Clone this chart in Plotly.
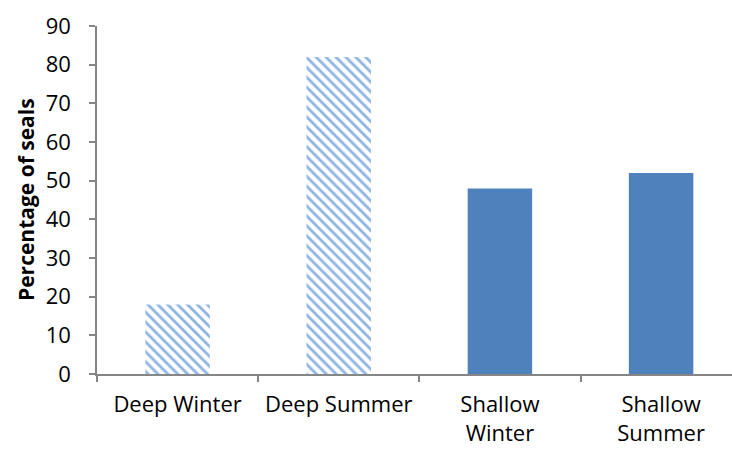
import plotly.graph_objects as go

categories = ["Deep Winter", "Deep Summer", "Shallow<br>Winter", "Shallow<br>Summer"]
deep_values = [18, 82]
shallow_values = [48, 52]
y_ticks = [0, 10, 20, 30, 40, 50, 60, 70, 80, 90]

BLUE = "#4f81bd"
AXIS = "#868686"
FONT = "'Open Sans', sans-serif"

fig = go.Figure()

# Deep dives: hatched bars
fig.add_trace(go.Bar(
    x=categories[:2], y=deep_values, width=0.4,
    marker=dict(
        color="white",
        line=dict(width=0),
        pattern=dict(shape="\\", fgcolor="#8eb4e3", bgcolor="white",
                     size=7, solidity=0.4, fillmode="replace"),
    ),
    showlegend=False,
))

# Shallow dives: solid bars
fig.add_trace(go.Bar(
    x=categories[2:], y=shallow_values, width=0.4,
    marker=dict(color=BLUE, line=dict(width=0)),
    showlegend=False,
))

fig.update_layout(
    width=732, height=450,
    margin=dict(l=97, r=0, t=26, b=76),
    paper_bgcolor="white", plot_bgcolor="white",
    font=dict(family=FONT, size=23, color="black"),
    bargap=0.6,
    xaxis=dict(
        type="category", categoryorder="array", categoryarray=categories,
        range=[-0.5, 3.44], automargin=False,
        showline=True, linecolor=AXIS, linewidth=1.5,
        ticks="outside", tickson="boundaries", ticklen=6, tickcolor=AXIS,
        tickwidth=1.5, showgrid=False, zeroline=False,
        ticklabelstandoff=10,
        tickfont=dict(family=FONT, size=22, color="black"),
    ),
    yaxis=dict(
        range=[0, 90], tickmode="array", tickvals=y_ticks, automargin=False,
        showline=True, linecolor=AXIS, linewidth=1.5,
        ticks="outside", ticklen=6, tickcolor=AXIS, tickwidth=1.5,
        showgrid=False, zeroline=False,
        ticklabelstandoff=14,
        tickfont=dict(family=FONT, size=22, color="black"),
    ),
    annotations=[dict(
        text="<b>Percentage of seals</b>", textangle=-90,
        xref="paper", yref="paper", x=-71 / 635, y=0.5,
        xanchor="center", yanchor="middle", showarrow=False,
        font=dict(family=FONT, size=21, color="black"),
    )],
)

fig.write_html("out.html")
